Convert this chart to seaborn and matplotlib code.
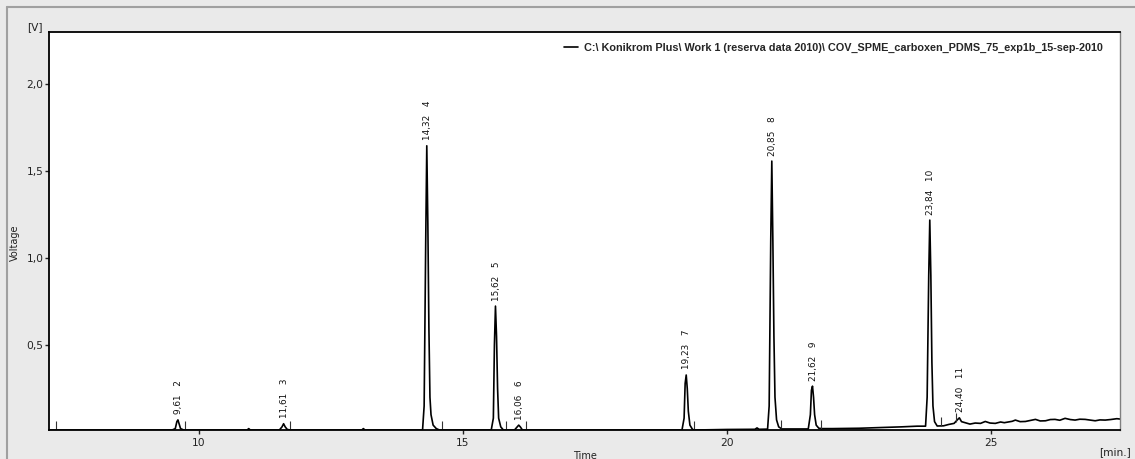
import numpy as np
import matplotlib
matplotlib.use("Agg")
import matplotlib.pyplot as plt
from matplotlib.lines import Line2D
import seaborn as sns

# Detector trace (time in min, signal in V)
trace_time = [
    7.17, 9.50, 9.56, 9.59, 9.61, 9.63, 9.66, 9.72,
    10.92, 10.95, 10.98,
    11.53, 11.58, 11.61, 11.64, 11.68, 11.74,
    13.09, 13.12, 13.15,
    14.24, 14.27, 14.30, 14.32, 14.34, 14.36, 14.38, 14.40, 14.44, 14.50, 14.56,
    15.54, 15.58, 15.60, 15.62, 15.64, 15.66, 15.68, 15.72, 15.77,
    15.98, 16.03, 16.06, 16.09, 16.13,
    19.15, 19.19, 19.21, 19.23, 19.25, 19.27, 19.30, 19.35, 19.40,
    20.00, 20.53, 20.57, 20.61,
    20.77, 20.80, 20.83, 20.85, 20.87, 20.89, 20.91, 20.94, 20.98, 21.04,
    21.54, 21.58, 21.60, 21.62, 21.64, 21.66, 21.69, 21.74, 21.80,
    22.00, 22.50, 23.00, 23.30, 23.60,
    23.76, 23.79, 23.82, 23.84, 23.86, 23.88, 23.90, 23.93, 23.98,
    24.10, 24.20, 24.30, 24.36, 24.40, 24.44, 24.51,
    24.60, 24.70, 24.80, 24.89, 24.98, 25.08, 25.18, 25.25, 25.33, 25.40,
    25.46, 25.55, 25.65, 25.75, 25.84, 25.93, 26.03, 26.12, 26.21, 26.30,
    26.40, 26.50, 26.59, 26.68, 26.78, 26.88, 26.97, 27.06, 27.16, 27.26,
    27.38, 27.44,
]
trace_volt = [
    0.012, 0.012, 0.020, 0.060, 0.070, 0.050, 0.020, 0.012,
    0.012, 0.020, 0.012,
    0.012, 0.030, 0.048, 0.030, 0.015, 0.012,
    0.012, 0.020, 0.012,
    0.012, 0.150, 1.100, 1.645, 1.200, 0.600, 0.200, 0.100, 0.040, 0.020, 0.012,
    0.012, 0.080, 0.500, 0.724, 0.550, 0.250, 0.080, 0.030, 0.012,
    0.012, 0.030, 0.040, 0.030, 0.012,
    0.012, 0.080, 0.280, 0.328, 0.250, 0.120, 0.040, 0.015, 0.012,
    0.015, 0.016, 0.024, 0.016,
    0.017, 0.150, 1.100, 1.557, 1.100, 0.550, 0.200, 0.070, 0.030, 0.018,
    0.018, 0.100, 0.240, 0.264, 0.200, 0.100, 0.040, 0.022, 0.020,
    0.020, 0.022, 0.027, 0.030, 0.034,
    0.034, 0.200, 0.900, 1.218, 0.900, 0.400, 0.150, 0.060, 0.035,
    0.036, 0.044, 0.050, 0.070, 0.082, 0.060, 0.054,
    0.046, 0.052, 0.050, 0.061, 0.052, 0.050, 0.058, 0.054, 0.058, 0.062,
    0.069, 0.060, 0.061, 0.067, 0.073, 0.064, 0.065, 0.072, 0.073, 0.068,
    0.079, 0.072, 0.069, 0.074, 0.073, 0.069, 0.065, 0.070, 0.069, 0.072,
    0.077, 0.075,
]

# Identified peaks: retention time and peak number
peak_rt = [9.61, 11.61, 14.32, 15.62, 16.06, 19.23, 20.85, 21.62, 23.84, 24.40]
peak_no = [2, 3, 4, 5, 6, 7, 8, 9, 10, 11]

# Integration boundary markers (min)
marker_rt = [7.30, 9.75, 11.74, 14.60, 15.82, 16.20, 19.38, 21.02, 21.79, 24.05, 24.33]
marker_len = 0.05

x_ticks = [10, 15, 20, 25]
y_ticks = [0.5, 1.0, 1.5, 2.0]
legend_label = "C:\\ Konikrom Plus\\ Work 1 (reserva data 2010)\\ COV_SPME_carboxen_PDMS_75_exp1b_15-sep-2010"

sns.set_style("ticks")
plt.rcParams["font.family"] = ["DejaVu Sans"]

W, H = 1135, 459
fig = plt.figure(figsize=(W / 100, H / 100), dpi=100, facecolor="#eaeaea")
ax = fig.add_axes([49 / W, 1 - 430 / H, (1120 - 49) / W, (430 - 32) / H])
ax.set_facecolor("white")

sns.lineplot(x=trace_time, y=trace_volt, ax=ax, color="black", lw=1.2,
             label=legend_label, sort=False, estimator=None)

# peak boundary ticks sitting on the trace
base = np.interp(marker_rt, trace_time, trace_volt)
ax.vlines(marker_rt, base, base + marker_len, color="#333333", lw=0.8)

# peak annotations
for rt, no in zip(peak_rt, peak_no):
    top = np.interp(rt, trace_time, trace_volt)
    txt = f"{rt:.2f}".replace(".", ",") + "   " + str(no)
    ax.annotate(txt, xy=(rt, top), xytext=(0.5, 4), textcoords="offset points",
                rotation=90, ha="center", va="bottom", fontsize=6.4, color="#111111")

ax.set_xlim(7.17, 27.44)
ax.set_ylim(0.012, 2.299)
ax.set_xticks(x_ticks)
ax.set_xticklabels([str(t) for t in x_ticks])
ax.set_yticks(y_ticks)
ax.set_yticklabels([f"{v:.1f}".replace(".", ",") for v in y_ticks])
ax.tick_params(axis="both", direction="out", length=3, width=1, colors="#222222",
               labelsize=7.7, labelcolor="#222222")
ax.tick_params(axis="y", pad=1)
ax.tick_params(axis="x", pad=3)
ax.set_xlabel("")
ax.set_ylabel("")

for side in ("left", "bottom", "top"):
    ax.spines[side].set_color("black")
    ax.spines[side].set_linewidth(1.3)
ax.spines["right"].set_color("#808080")
ax.spines["right"].set_linewidth(1.0)

leg = ax.legend(loc="upper right", bbox_to_anchor=(1103 / W, 1 - 43 / H),
                bbox_transform=fig.transFigure, borderaxespad=0, borderpad=0,
                frameon=False, handlelength=1.3, handletextpad=0.55,
                prop={"family": "Liberation Sans", "weight": "bold", "size": 7.8})

# axis captions
fig.text(35 / W, 1 - 27 / H, "[V]", ha="center", va="center", fontsize=7.7, color="#222222")
fig.text(15 / W, 1 - 243 / H, "Voltage", ha="center", va="center", rotation=90, fontsize=7, color="#222222")
fig.text(585 / W, 1 - 456 / H, "Time", ha="center", va="center", fontsize=7, color="#222222")
fig.text(1131 / W, 1 - 452 / H, "[min.]", ha="right", va="center", fontsize=7.7, color="#222222")

# outer panel frame (top and left edges)
fig.add_artist(Line2D([7 / W, 1], [1 - 7 / H, 1 - 7 / H], transform=fig.transFigure, color="#a0a0a0", lw=1.5))
fig.add_artist(Line2D([7 / W, 7 / W], [0, 1 - 7 / H], transform=fig.transFigure, color="#a0a0a0", lw=1.5))

fig.savefig("out.png", dpi=100, facecolor=fig.get_facecolor())
